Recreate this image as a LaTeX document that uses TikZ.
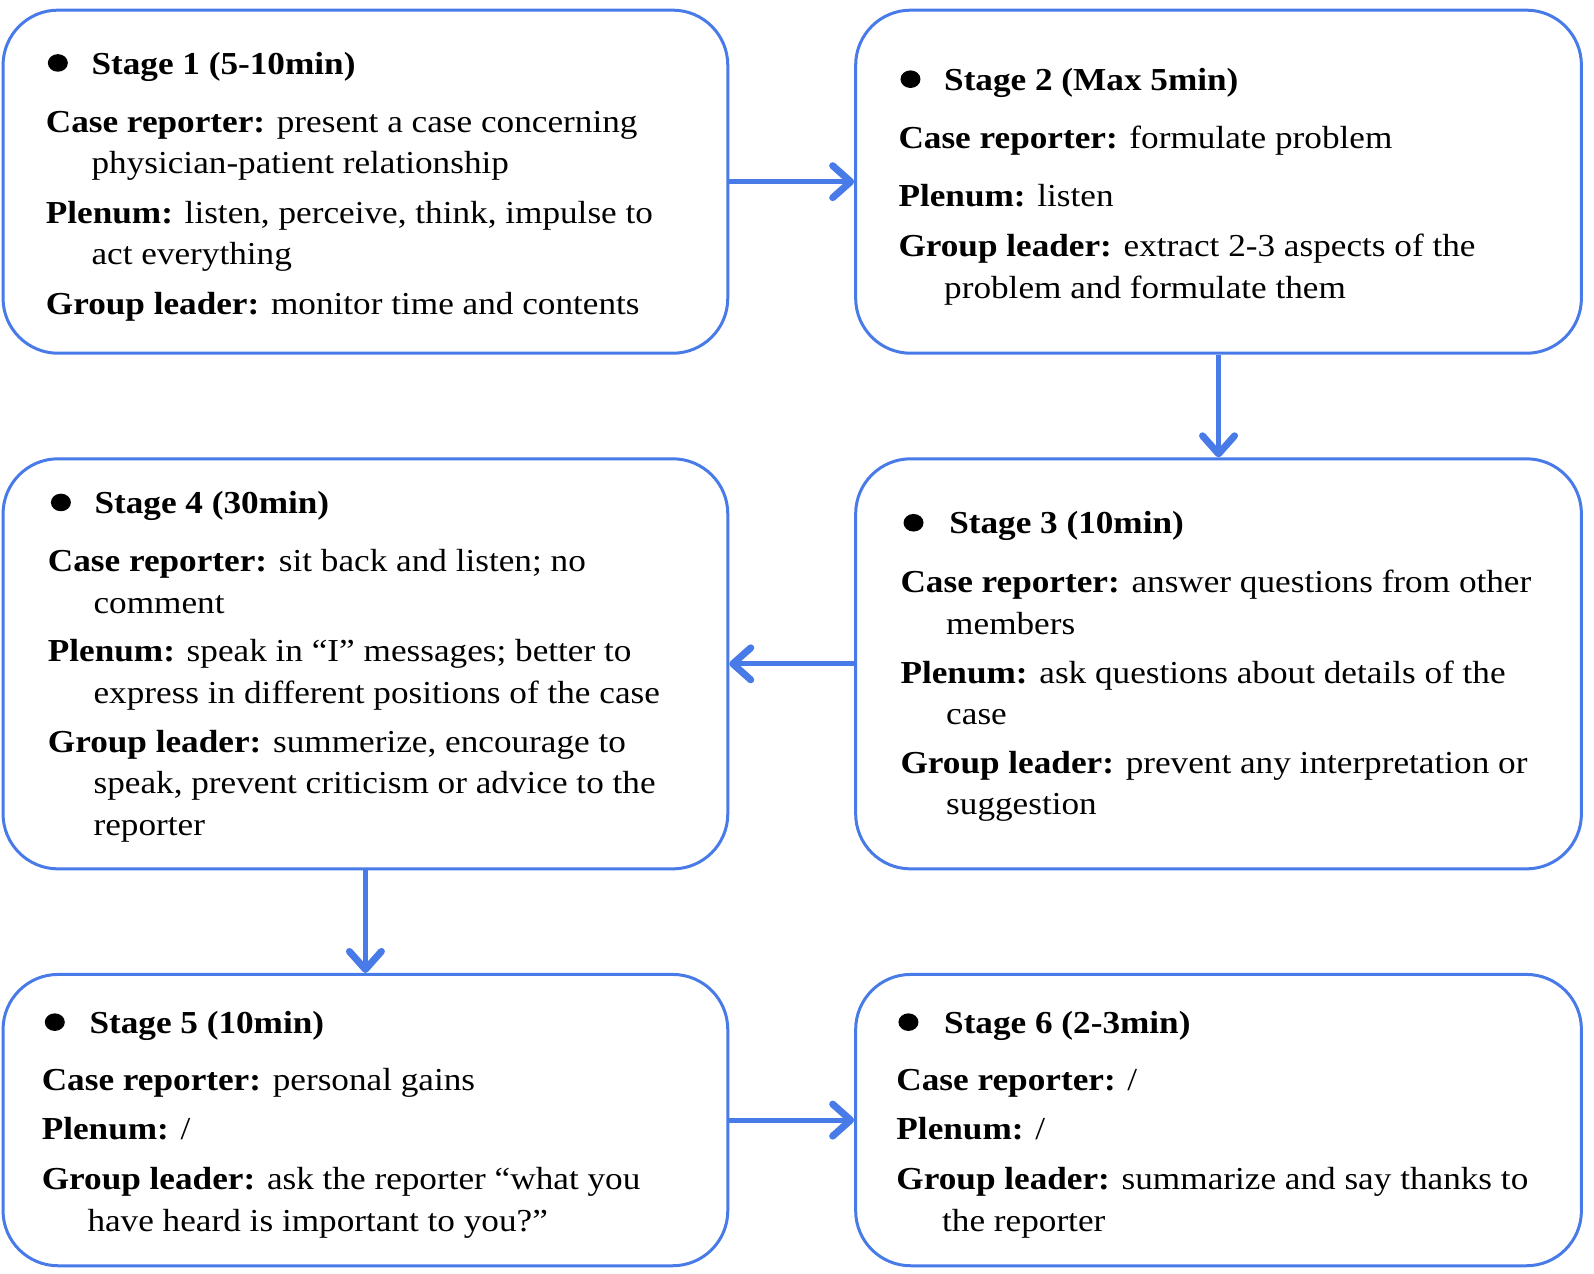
\documentclass[tikz,border=0pt]{standalone}
\usepackage{fontspec}
\setmainfont{Liberation Serif}[FakeStretch=1.1]
\usetikzlibrary{arrows.meta,fit}
\definecolor{fbblue}{RGB}{72,123,232}
\newcommand{\ld}[1]{\textbf{#1}}
\newcommand{\ind}{\hspace*{45.7pt}}
\newcommand{\fst}{\rule{0pt}{25pt}}
\newcommand{\bodyfont}{\fontsize{32}{41.6}\selectfont}
\tikzset{
  stagebox/.style={draw=fbblue, line width=3pt, rounded corners=55pt, inner sep=0pt},
  conn/.style={draw=fbblue, line width=5pt, -{Straight Barb[length=18pt,width=32pt,round,line width=7pt]}},
  bodytext/.style={anchor=north west, inner sep=0pt, align=left, font=\bodyfont, yshift=25pt},
  titletext/.style={anchor=base west, inner sep=0pt, font=\bodyfont\bfseries},
  bul/.style={fill=black}
}
\begin{document}
\begin{tikzpicture}[x=1.015pt, y=-1.015pt]
\useasboundingbox (0,0) rectangle (1570.4,1254.2);
% boxes
\node[stagebox, fit={(3,10) (717,348)}] (b1) {};
\node[stagebox, fit={(843,10) (1558,348)}] (b2) {};
\node[stagebox, fit={(843,452) (1558,856)}] (b3) {};
\node[stagebox, fit={(3,452) (717,856)}] (b4) {};
\node[stagebox, fit={(3,960) (717,1247)}] (b5) {};
\node[stagebox, fit={(843,960) (1558,1247)}] (b6) {};
% stage 1
\fill[bul] (57,62) ellipse [x radius=10pt, y radius=8.8pt];
\node[titletext] (t1) at (90,73) {Stage 1 (5-10min)};
\node[bodytext] (x1) at (45,130) {\fst\ld{Case reporter:} present a case concerning\\
\ind physician-patient relationship\\[8pt]
\ld{Plenum:} listen, perceive, think, impulse to\\
\ind act everything\\[8pt]
\ld{Group leader:} monitor time and contents};
% stage 2
\fill[bul] (897,78) ellipse [x radius=10pt, y radius=8.8pt];
\node[titletext] (t2) at (930,89) {Stage 2 (Max 5min)};
\node[bodytext] (x2) at (885,146) {\fst\ld{Case reporter:} formulate problem\\[16pt]
\ld{Plenum:} listen\\[9pt]
\ld{Group leader:} extract 2-3 aspects of the\\
\ind problem and formulate them};
% stage 3
\fill[bul] (900,515) ellipse [x radius=10pt, y radius=8.8pt];
\node[titletext] (t3) at (935,526) {Stage 3 (10min)};
\node[bodytext] (x3) at (887,584) {\fst\ld{Case reporter:} answer questions from other\\
\ind members\\[7pt]
\ld{Plenum:} ask questions about details of the\\
\ind case\\[7pt]
\ld{Group leader:} prevent any interpretation or\\
\ind suggestion};
% stage 4
\fill[bul] (60,495) ellipse [x radius=10pt, y radius=8.8pt];
\node[titletext] (t4) at (93,506) {Stage 4 (30min)};
\node[bodytext] (x4) at (47,563) {\fst\ld{Case reporter:} sit back and listen; no\\
\ind comment\\[7pt]
\ld{Plenum:} speak in “I” messages; better to\\
\ind express in different positions of the case\\[7pt]
\ld{Group leader:} summerize, encourage to\\
\ind speak, prevent criticism or advice to the\\
\ind reporter};
% stage 5
\fill[bul] (54,1007) ellipse [x radius=10pt, y radius=8.8pt];
\node[titletext] (t5) at (88,1018) {Stage 5 (10min)};
\node[bodytext] (x5) at (41,1074) {\fst\ld{Case reporter:} personal gains\\[8pt]
\ld{Plenum:} /\\[8pt]
\ld{Group leader:} ask the reporter “what you\\
\ind have heard is important to you?”};
% stage 6
\fill[bul] (895,1007) ellipse [x radius=10pt, y radius=8.8pt];
\node[titletext] (t6) at (930,1018) {Stage 6 (2-3min)};
\node[bodytext] (x6) at (883,1074) {\fst\ld{Case reporter:} /\\[8pt]
\ld{Plenum:} /\\[8pt]
\ld{Group leader:} summarize and say thanks to\\
\ind the reporter};
% connectors
\draw[conn] (b1.east) -- (b2.west);
\draw[conn] (b2.south) -- (b3.north);
\draw[conn] (b3.west) -- (b4.east);
\draw[conn] (b4.south) -- (b5.north);
\draw[conn] (b5.east) -- (b6.west);
\end{tikzpicture}
\end{document}
